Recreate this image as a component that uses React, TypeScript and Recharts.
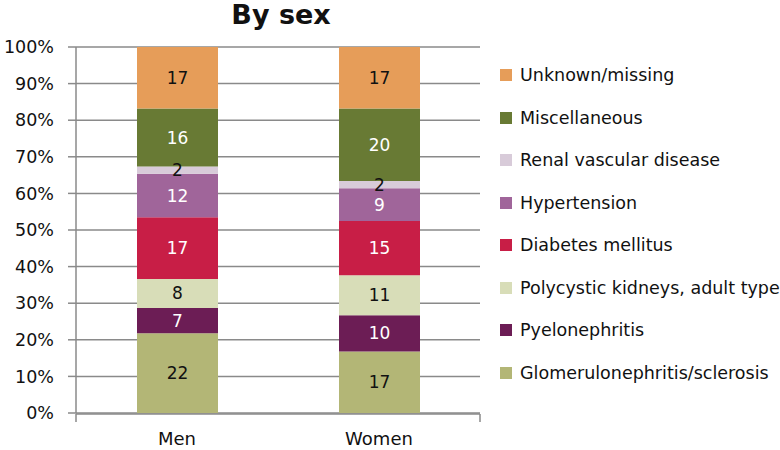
import React from 'react';
import { BarChart, Bar, XAxis, YAxis, CartesianGrid, LabelList } from 'recharts';

const categories = ['Men', 'Women'];
const glomerulo = [22, 17];
const pyelo = [7, 10];
const polycystic = [8, 11];
const diabetes = [17, 15];
const hypertension = [12, 9];
const renal = [2, 2];
const misc = [16, 20];
const unknown = [17, 17];
const yTicks = [0, 0.1, 0.2, 0.3, 0.4, 0.5, 0.6, 0.7, 0.8, 0.9, 1];
const edgeTicks = [0, 1, 2];

const series = [
  { key: 'glomerulo', name: 'Glomerulonephritis/sclerosis', values: glomerulo, color: '#B3B676', label: '#111' },
  { key: 'pyelo', name: 'Pyelonephritis', values: pyelo, color: '#6C1D55', label: '#fff' },
  { key: 'polycystic', name: 'Polycystic kidneys, adult type', values: polycystic, color: '#D8DDB8', label: '#111' },
  { key: 'diabetes', name: 'Diabetes mellitus', values: diabetes, color: '#C81E46', label: '#fff' },
  { key: 'hypertension', name: 'Hypertension', values: hypertension, color: '#A0659A', label: '#fff' },
  { key: 'renal', name: 'Renal vascular disease', values: renal, color: '#D8CBD9', label: '#111' },
  { key: 'misc', name: 'Miscellaneous', values: misc, color: '#687A34', label: '#fff' },
  { key: 'unknown', name: 'Unknown/missing', values: unknown, color: '#E69D59', label: '#111' },
];

const data = categories.map((c, i) => {
  const row: Record<string, any> = { category: c };
  series.forEach((s) => (row[s.key] = s.values[i]));
  return row;
});

const gray = '#8a8a8a';

export default function App() {
  return (
    <div style={{ position: 'absolute', left: 0, top: 0, width: 780, height: 450, background: '#fff', fontFamily: 'DejaVu Sans' }}>
      <div style={{ position: 'absolute', left: 0, top: 1, width: 562, textAlign: 'center', fontSize: 27, lineHeight: '27px', fontWeight: 'bold', color: '#111' }}>
        By sex
      </div>
      <BarChart
        width={780}
        height={450}
        data={data}
        stackOffset="expand"
        margin={{ top: 47, right: 300, bottom: 0, left: 0 }}
        barSize={81}
      >
        <CartesianGrid vertical={false} stroke={gray} strokeWidth={1.5} />
        <XAxis
          xAxisId="edge"
          type="number"
          domain={[0, 2]}
          ticks={edgeTicks}
          height={36}
          tickFormatter={() => ''}
          stroke={gray}
          strokeWidth={1.5}
          tickSize={8}
          allowDataOverflow
        />
        <XAxis
          dataKey="category"
          height={1}
          axisLine={false}
          tickLine={false}
          tickSize={0}
          tickMargin={19}
          tick={{ fill: '#111', fontSize: 18 }}
        />
        <YAxis
          width={76}
          domain={[0, 1]}
          ticks={yTicks}
          tickFormatter={(v: number) => `${Math.round(v * 100)}%`}
          stroke={gray}
          strokeWidth={1.5}
          tickSize={8}
          tickMargin={14}
          tick={{ fill: '#111', fontSize: 17.5 }}
        />
        {series.map((s) => (
          <Bar key={s.key} dataKey={s.key} name={s.name} stackId="a" fill={s.color} isAnimationActive={false}>
            <LabelList dataKey={s.key} position="center" fill={s.label} fontSize={17} />
          </Bar>
        ))}
      </BarChart>
      <div style={{ position: 'absolute', left: 500, top: 54, fontSize: 17.5, color: '#111' }}>
        {[...series].reverse().map((s) => (
          <div key={s.key} style={{ height: 42.5, display: 'flex', alignItems: 'center' }}>
            <span style={{ width: 12, height: 12, background: s.color, display: 'inline-block', marginRight: 8 }} />
            <span style={{ whiteSpace: 'nowrap' }}>{s.name}</span>
          </div>
        ))}
      </div>
    </div>
  );
}
